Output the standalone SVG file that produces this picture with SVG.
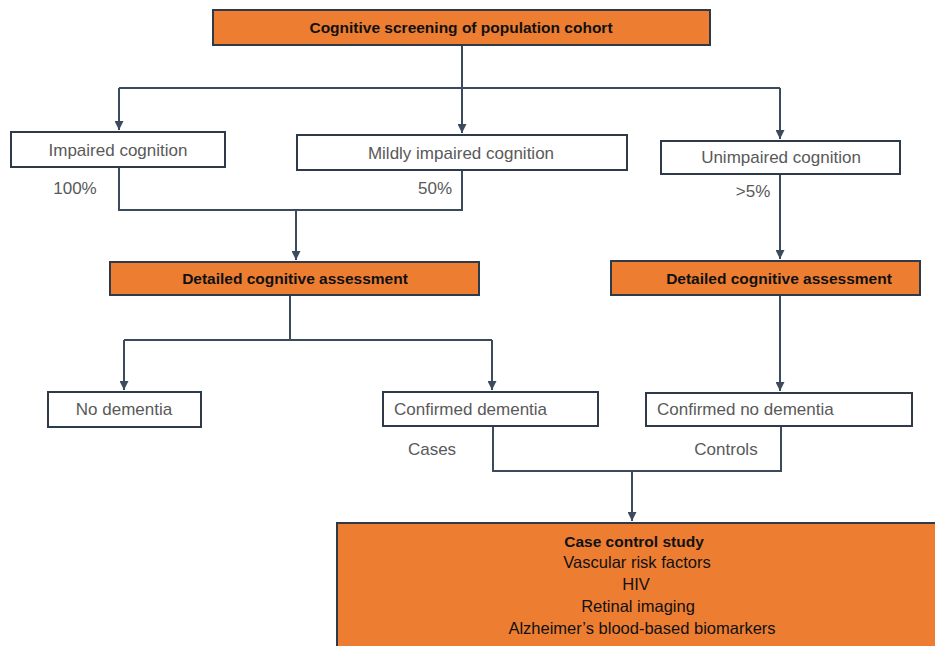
<svg xmlns="http://www.w3.org/2000/svg" width="935" height="646" viewBox="0 0 935 646">
<style>
.bg{fill:#ffffff}
.box{fill:#ffffff;stroke:#2e3a4a;stroke-width:2}
.obox{fill:#ed7d31;stroke:#2e3a4a;stroke-width:2}
.t{font-family:"Liberation Sans",Arial,sans-serif;font-size:17px;fill:#595959}
.tc{text-anchor:middle}
.b{font-family:"Liberation Sans",Arial,sans-serif;font-size:15.5px;font-weight:bold;fill:#111111;text-anchor:middle}
.k{font-family:"Liberation Sans",Arial,sans-serif;font-size:16.5px;fill:#111111;text-anchor:middle}
.ln{fill:none;stroke:#3b4a5c;stroke-width:2}
</style>
<defs>
<marker id="ah" viewBox="0 0 10 10" refX="10" refY="5" markerWidth="9" markerHeight="9" markerUnits="userSpaceOnUse" orient="auto">
<path d="M0,0 L10,5 L0,10 z" fill="#3b4a5c"/>
</marker>
</defs>
<rect class="bg" x="0" y="0" width="935" height="646"/>
<g id="connectors">
<path class="ln" d="M462,45 V133" marker-end="url(#ah)"/>
<path class="ln" d="M119,88 H780"/>
<path class="ln" d="M119,88 V130" marker-end="url(#ah)"/>
<path class="ln" d="M780,88 V139" marker-end="url(#ah)"/>
<path class="ln" d="M119,167 V210 H462 V170"/>
<path class="ln" d="M296,210 V260" marker-end="url(#ah)"/>
<path class="ln" d="M780,174 V259" marker-end="url(#ah)"/>
<path class="ln" d="M290,295 V340"/>
<path class="ln" d="M124,340 H492"/>
<path class="ln" d="M124,340 V390" marker-end="url(#ah)"/>
<path class="ln" d="M492,340 V390" marker-end="url(#ah)"/>
<path class="ln" d="M780,295 V391" marker-end="url(#ah)"/>
<path class="ln" d="M493,426 V471 H781 V426"/>
<path class="ln" d="M632,471 V521" marker-end="url(#ah)"/>
</g>
<g id="screening">
<rect class="obox" x="213" y="10" width="497" height="35"/>
<text class="b" x="461" y="33">Cognitive screening of population cohort</text>
</g>
<g id="impaired">
<rect class="box" x="11" y="132" width="214" height="35"/>
<text class="t tc" x="118" y="156">Impaired cognition</text>
</g>
<g id="mildly">
<rect class="box" x="297" y="135" width="330" height="35"/>
<text class="t tc" x="461" y="159">Mildly impaired cognition</text>
</g>
<g id="unimpaired">
<rect class="box" x="661" y="141" width="239" height="33"/>
<text class="t tc" x="781" y="163">Unimpaired cognition</text>
</g>
<g id="labels">
<text class="t tc" x="75" y="194">100%</text>
<text class="t tc" x="435" y="194">50%</text>
<text class="t tc" x="753" y="197">&gt;5%</text>
<text class="t tc" x="432" y="455">Cases</text>
<text class="t tc" x="726" y="455">Controls</text>
</g>
<g id="assess-left">
<rect class="obox" x="110" y="262" width="369" height="33"/>
<text class="b" x="295" y="284">Detailed cognitive assessment</text>
</g>
<g id="assess-right">
<rect class="obox" x="611" y="261" width="309" height="34"/>
<text class="b" x="779" y="284">Detailed cognitive assessment</text>
</g>
<g id="no-dementia">
<rect class="box" x="48" y="392" width="153" height="35"/>
<text class="t tc" x="124" y="415">No dementia</text>
</g>
<g id="confirmed-dementia">
<rect class="box" x="383" y="392" width="215" height="34"/>
<text class="t" x="394" y="415">Confirmed dementia</text>
</g>
<g id="confirmed-no-dementia">
<rect class="box" x="646" y="393" width="266" height="33"/>
<text class="t" x="657" y="415">Confirmed no dementia</text>
</g>
<g id="case-control">
<rect class="obox" x="337" y="523" width="610" height="135"/>
<text class="b" x="634" y="547">Case control study</text>
<text class="k" x="637" y="568">Vascular risk factors</text>
<text class="k" x="636" y="590">HIV</text>
<text class="k" x="638" y="612">Retinal imaging</text>
<text class="k" x="642" y="634">Alzheimer’s blood-based biomarkers</text>
</g>
</svg>
